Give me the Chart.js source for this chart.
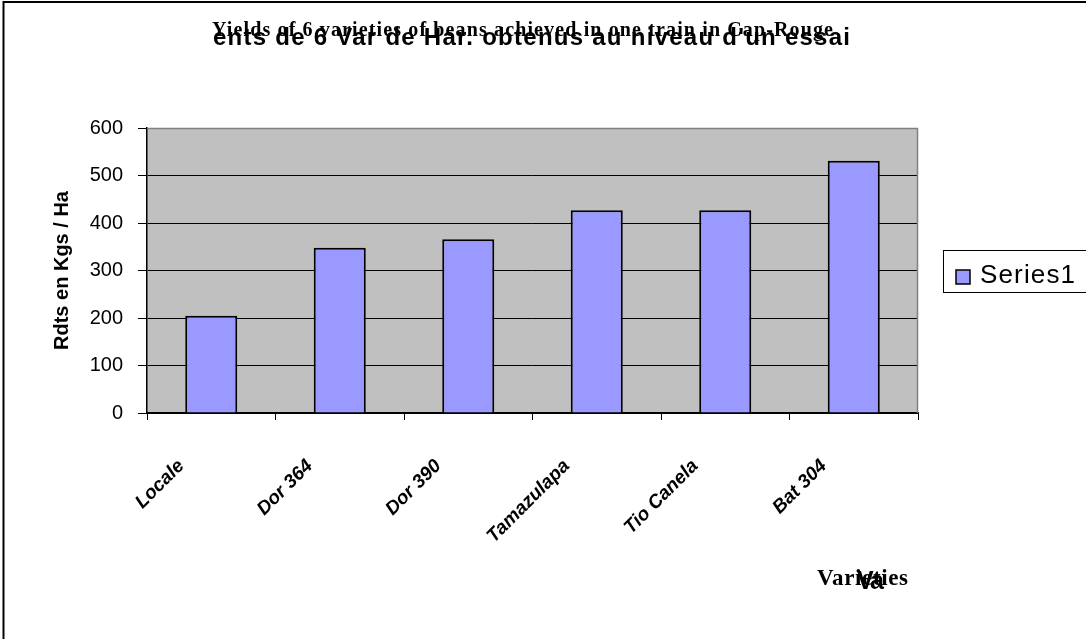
<!DOCTYPE html>
<html><head><meta charset="utf-8">
<script src="https://cdn.jsdelivr.net/npm/chart.js@4/dist/chart.umd.min.js"></script>
<style>html,body{margin:0;padding:0;background:#fff}#wrap{width:1086px;height:639px;position:relative}</style>
</head><body><div id="wrap"><canvas id="c" width="1086" height="639"></canvas></div>
<script>
const categories = ['Locale', 'Dor 364', 'Dor 390', 'Tamazulapa', 'Tio Canela', 'Bat 304'];
const seriesName = 'Series1';
const yields = [205, 348, 366, 427, 427, 531];
const yTicks = [0, 100, 200, 300, 400, 500, 600];
const titleEn = 'Yields of 6 varieties of beans achieved in one train in Cap-Rouge';
const titleFr = "ents de 6 Var de Har. obtenus au niveau d'un essai";
const yTitle = 'Rdts en Kgs / Ha';
const xTitleEn = 'Varieties';
const xTitleFr = 'Va';

function fitText(ctx, text, font, x1, x2, baseline) {
  ctx.font = font;
  ctx.letterSpacing = '0px';
  ctx.textAlign = 'left';
  ctx.textBaseline = 'alphabetic';
  const w = ctx.measureText(text).width;
  const ls = (x2 - x1 - w) / (text.length - 1);
  ctx.letterSpacing = ls + 'px';
  ctx.fillText(text, x1, baseline);
  ctx.letterSpacing = '0px';
}

const decor = {
  id: 'decor',
  beforeDraw(chart) {
    const ctx = chart.ctx, a = chart.chartArea;
    ctx.save();
    ctx.fillStyle = '#fff';
    ctx.fillRect(0, 0, chart.width, chart.height);
    ctx.fillStyle = '#C0C0C0';
    ctx.fillRect(a.left, a.top, a.right - a.left, a.bottom - a.top);
    ctx.restore();
  },
  afterDraw(chart) {
    const ctx = chart.ctx, a = chart.chartArea;
    ctx.save();
    ctx.strokeStyle = '#808080';
    ctx.lineWidth = 1.5;
    ctx.beginPath();
    ctx.moveTo(a.left, a.top + 0.5); ctx.lineTo(a.right - 0.5, a.top + 0.5); ctx.lineTo(a.right - 0.5, a.bottom);
    ctx.stroke();
    ctx.strokeStyle = '#000';
    ctx.lineWidth = 2;
    ctx.beginPath();
    ctx.moveTo(3.5, chart.height + 2); ctx.lineTo(3.5, 2); ctx.lineTo(chart.width + 2, 2);
    ctx.stroke();
    ctx.fillStyle = '#000';
    fitText(ctx, titleFr, 'bold 24px "Liberation Sans"', 213, 850, 45);
    fitText(ctx, titleEn, 'bold 20px "Liberation Serif"', 212, 833, 36);
    fitText(ctx, xTitleEn, 'bold 23px "Liberation Serif"', 817, 908, 585);
    fitText(ctx, xTitleFr, 'bold 25px "Liberation Sans"', 857, 884, 589);
    const ds = chart.data.datasets[0];
    ctx.fillStyle = '#fff';
    ctx.strokeStyle = '#000';
    ctx.lineWidth = 1;
    ctx.fillRect(943.5, 250.5, 160, 42);
    ctx.strokeRect(943.5, 250.5, 160, 42);
    ctx.fillStyle = ds.backgroundColor;
    ctx.fillRect(956, 270, 14, 14);
    ctx.lineWidth = 1.5;
    ctx.strokeRect(956, 270, 14, 14);
    ctx.fillStyle = '#000';
    fitText(ctx, ds.label, '26px "Liberation Sans"', 980, 1075, 283);
    ctx.restore();
  }
};

new Chart(document.getElementById('c'), {
  type: 'bar',
  data: {
    labels: categories,
    datasets: [{
      label: seriesName,
      data: yields,
      backgroundColor: '#9999FF',
      borderColor: '#000',
      borderWidth: 2,
      barPercentage: 0.405,
      categoryPercentage: 1
    }]
  },
  options: {
    responsive: false,
    animation: false,
    devicePixelRatio: 1,
    layout: { padding: { left: 40, top: 128, right: 168, bottom: 96 } },
    plugins: { legend: { display: false }, title: { display: false }, tooltip: { enabled: false } },
    scales: {
      x: {
        afterFit(s) { s.height = 130; },
        grid: { drawOnChartArea: false, drawTicks: true, tickLength: 7, color: '#000', offset: true },
        border: { display: true, color: '#000', width: 2 },
        ticks: {
          autoSkip: false, minRotation: 45, maxRotation: 45, padding: 35, labelOffset: -30,
          color: '#000', font: { family: 'Liberation Sans', size: 19, style: 'italic', weight: 'bold' }
        }
      },
      y: {
        min: 0, max: 600,
        afterFit(s) { s.width = 107; },
        afterBuildTicks(s) { s.ticks = yTicks.map(v => ({ value: v })); },
        grid: { color: '#000', lineWidth: 1, tickLength: 9, drawTicks: true },
        border: { display: true, color: '#000', width: 1.5 },
        ticks: { color: '#000', padding: 15, font: { family: 'Liberation Sans', size: 20 } },
        title: { display: true, text: yTitle, color: '#000', padding: { top: 10, bottom: 0 },
          font: { family: 'Liberation Sans', size: 20, weight: 'bold' } }
      }
    }
  },
  plugins: [decor]
});
</script>
</body></html>
